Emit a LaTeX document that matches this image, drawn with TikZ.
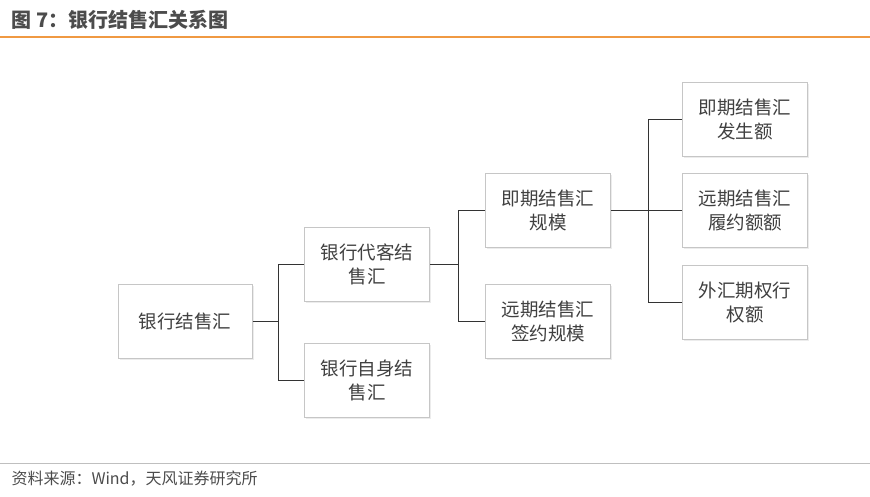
\documentclass[tikz,border=0pt]{standalone}
\usepackage{fontspec}
\setmainfont{Noto Sans CJK SC}
\usetikzlibrary{positioning, shadows}

\begin{document}
\begin{tikzpicture}[x=1pt, y=-1pt,
    box/.style={draw=gray!45, fill=white, line width=1pt, minimum width=125pt, minimum height=74pt,
                align=center, font=\fontsize{18.5}{24}\selectfont, text=black!75,
                drop shadow={shadow xshift=1.5pt, shadow yshift=-1.5pt, fill=gray!30}},
    link/.style={draw=black!80, line width=0.9pt}]
    \useasboundingbox (0,0) rectangle (870,496);
    \node[anchor=west, font=\fontsize{20}{24}\selectfont\bfseries, text=black!70] (title) at (8,20) {图 7：银行结售汇关系图};
    \draw[draw=orange!70!brown!80, line width=1.2pt] (0,37) -- (870,37);
    \node[box, minimum width=134pt] (root) at (185,321) {银行结售汇};
    \node[box] (agent) at (367,264) {银行代客结\\售汇};
    \node[box] (self) at (367,380) {银行自身结\\售汇};
    \node[box] (spot) at (548,210) {即期结售汇\\规模};
    \node[box] (fwd) at (548,321) {远期结售汇\\签约规模};
    \node[box] (spotamt) at (745,119) {即期结售汇\\发生额};
    \node[box] (fwdamt) at (745,210) {远期结售汇\\履约额额};
    \node[box] (opt) at (745,302) {外汇期权行\\权额};

    \draw[link] (root.east) -- ++(26,0) coordinate (r1);
    \draw[link] (r1 |- agent) -- (agent.west);
    \draw[link] (r1 |- agent) -- (r1 |- self) -- (self.west);
    \draw[link] (agent.east) -- ++(28,0) coordinate (a1);
    \draw[link] (a1 |- spot) -- (spot.west);
    \draw[link] (a1 |- spot) -- (a1 |- fwd) -- (fwd.west);
    \draw[link] (spot.east) -- ++(37,0) coordinate (s1);
    \draw[link] (s1 |- spotamt) -- (spotamt.west);
    \draw[link] (s1 |- spotamt) -- (s1 |- opt) -- (opt.west);
    \draw[link] (s1 |- fwdamt) -- (fwdamt.west);

    \draw[draw=gray!50, line width=0.8pt] (0,463) -- (870,463);
    \node[anchor=west, font=\fontsize{16}{20}\selectfont, text=black!70] (src) at (8,479) {资料来源：Wind，天风证券研究所};
\end{tikzpicture}
\end{document}
